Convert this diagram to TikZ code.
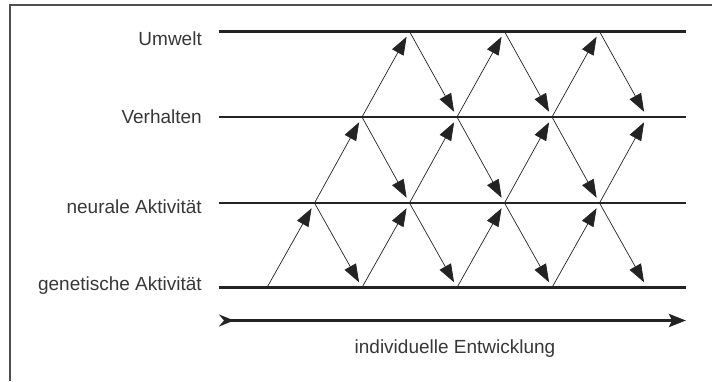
\documentclass[tikz,border=0pt]{standalone}
\usepackage{fontspec}
\setmainfont{Liberation Sans}
\usepackage{tikz}
\usetikzlibrary{positioning, arrows.meta, calc}
\definecolor{inkgray}{RGB}{35, 35, 35}
\definecolor{labelgray}{RGB}{55, 55, 55}

\begin{document}
\begin{tikzpicture}[
  x=1pt, y=-1pt,
  font=\fontsize{19}{23}\selectfont,
  level/.style={draw=inkgray, line width=2.5pt},
  lbl/.style={anchor=base east, inner sep=0pt, text=labelgray},
  influence/.style={draw=inkgray, line width=0.7pt,
    -{Triangle[length=18pt, width=13pt]}, shorten >=6pt},
  devarrow/.style={draw=inkgray, line width=3pt,
    {Stealth[reversed, length=15pt, width=12pt, inset=5pt]}-{Stealth[length=17pt, width=13pt, inset=3pt]}},
  frame/.style={draw=inkgray!80, line width=1.5pt}
]
\useasboundingbox (0,0) rectangle (712,381);

% frame, open to the right and bottom
\coordinate (frame-bl) at (10,381);
\coordinate (frame-tr) at (712,5);
\draw[frame] (frame-bl) |- (frame-tr);

% level lines
\coordinate (u-l) at (219,31.5);  \coordinate (u-r) at (686,31.5);
\coordinate (v-l) at (219,117);   \coordinate (v-r) at (686,117);
\coordinate (n-l) at (219,203);   \coordinate (n-r) at (686,203);
\coordinate (g-l) at (219,287.5); \coordinate (g-r) at (686,287.5);
\draw[level] (u-l) -- (u-r);
\draw[level] (v-l) -- (v-r);
\draw[level] (n-l) -- (n-r);
\draw[level] (g-l) -- (g-r);

\node[lbl] (lbl-u) at (202,45) {Umwelt};
\node[lbl] (lbl-v) at (202,123.5) {Verhalten};
\node[lbl] (lbl-n) at (202,213) {neurale Aktivität};
\node[lbl] (lbl-g) at (202,290) {genetische Aktivität};

% crossing points p-k-L (L: 0 genetic .. 3 environment)
\foreach \L/\y in {0/287.5, 1/203, 2/117, 3/31.5}
  \foreach \k in {0,...,8}
    \coordinate (p-\k-\L) at (267+47.5*\k,\y);

% upward influences
\foreach \k/\L in {0/0, 2/0, 4/0, 6/0, 1/1, 3/1, 5/1, 7/1, 2/2, 4/2, 6/2}{
  \pgfmathtruncatemacro{\kk}{\k+1}
  \pgfmathtruncatemacro{\LL}{\L+1}
  \draw[influence] (p-\k-\L) -- (p-\kk-\LL);
}
% downward influences
\foreach \k/\L in {1/1, 3/1, 5/1, 7/1, 2/2, 4/2, 6/2, 3/3, 5/3, 7/3}{
  \pgfmathtruncatemacro{\kk}{\k+1}
  \pgfmathtruncatemacro{\LL}{\L-1}
  \draw[influence] (p-\k-\L) -- (p-\kk-\LL);
}

% development axis
\coordinate (dev-l) at (219,320.5);
\coordinate (dev-r) at (686,320.5);
\draw[devarrow] (dev-l) -- (dev-r);
\node[inner sep=0pt, text=labelgray, anchor=base] (lbl-dev) at (455,353) {individuelle Entwicklung};
\end{tikzpicture}
\end{document}
